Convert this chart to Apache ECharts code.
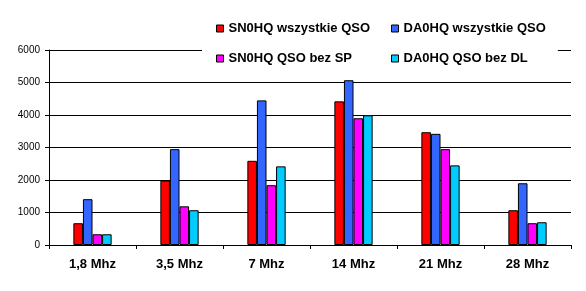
<!DOCTYPE html>
<html><head><meta charset="utf-8">
<script src="https://cdn.jsdelivr.net/npm/echarts@6/dist/echarts.min.js"></script>
<style>html,body{margin:0;padding:0;background:#fff}#c{width:586px;height:291px}</style>
</head><body><div id="c"></div>
<script>
const categories = ['1,8 Mhz', '3,5 Mhz', '7 Mhz', '14 Mhz', '21 Mhz', '28 Mhz'];
const seriesNames = ['SN0HQ wszystkie QSO', 'DA0HQ wszystkie QSO', 'SN0HQ QSO bez SP', 'DA0HQ QSO bez DL'];
const sn0hqWszystkie = [670, 1980, 2590, 4420, 3470, 1070];
const da0hqWszystkie = [1410, 2950, 4450, 5070, 3420, 1900];
const sn0hqBezSP = [330, 1190, 1840, 3900, 2950, 670];
const da0hqBezDL = [330, 1070, 2420, 3990, 2450, 700];
const yTicks = [0, 1000, 2000, 3000, 4000, 5000, 6000];
const colors = ['#FF0000', '#3366FF', '#FF00FF', '#00CCFF'];

const values = [sn0hqWszystkie, da0hqWszystkie, sn0hqBezSP, da0hqBezDL];
const font = '"Liberation Sans", Arial, sans-serif';
const chart = echarts.init(document.getElementById('c'), null, {renderer: 'canvas'});
const legendText = {fontFamily: font, fontSize: 13, fontWeight: 'bold', color: '#000'};
chart.setOption({
  animation: false,
  backgroundColor: '#fff',
  grid: {left: 49, right: 15, top: 50, bottom: 46, containLabel: false},
  legend: [
    {data: [seriesNames[0], seriesNames[2]], orient: 'vertical', left: 202, top: 14,
     padding: [8, 20, 8, 14], itemGap: 17, itemWidth: 7, itemHeight: 7, icon: 'rect',
     backgroundColor: '#fff', textStyle: legendText,
     itemStyle: {borderColor: '#000', borderWidth: 1}},
    {data: [seriesNames[1], seriesNames[3]], orient: 'vertical', left: 386, top: 14,
     padding: [8, 12, 8, 5], itemGap: 17, itemWidth: 7, itemHeight: 7, icon: 'rect',
     backgroundColor: '#fff', textStyle: legendText,
     itemStyle: {borderColor: '#000', borderWidth: 1}}
  ],
  xAxis: {
    type: 'category', data: categories,
    axisLine: {lineStyle: {color: '#000', width: 1}},
    axisTick: {show: true, length: 4, lineStyle: {color: '#000'}},
    axisLabel: {fontFamily: font, fontSize: 13, fontWeight: 'bold', color: '#000', margin: 13},
    splitLine: {show: false}
  },
  yAxis: {
    type: 'value', min: yTicks[0], max: yTicks[yTicks.length - 1], interval: 1000,
    axisLine: {show: true, lineStyle: {color: '#000', width: 1}},
    axisTick: {show: true, length: 4, lineStyle: {color: '#000'}},
    axisLabel: {fontFamily: font, fontSize: 10, color: '#000', margin: 9,
      formatter: v => String(v)},
    splitLine: {show: true, lineStyle: {color: '#000', width: 1}}
  },
  series: seriesNames.map((n, i) => ({
    name: n, type: 'bar', data: values[i],
    barGap: '0%', barCategoryGap: '56%',
    itemStyle: {color: colors[i], borderColor: '#000', borderWidth: 1}
  }))
});
</script></body></html>
